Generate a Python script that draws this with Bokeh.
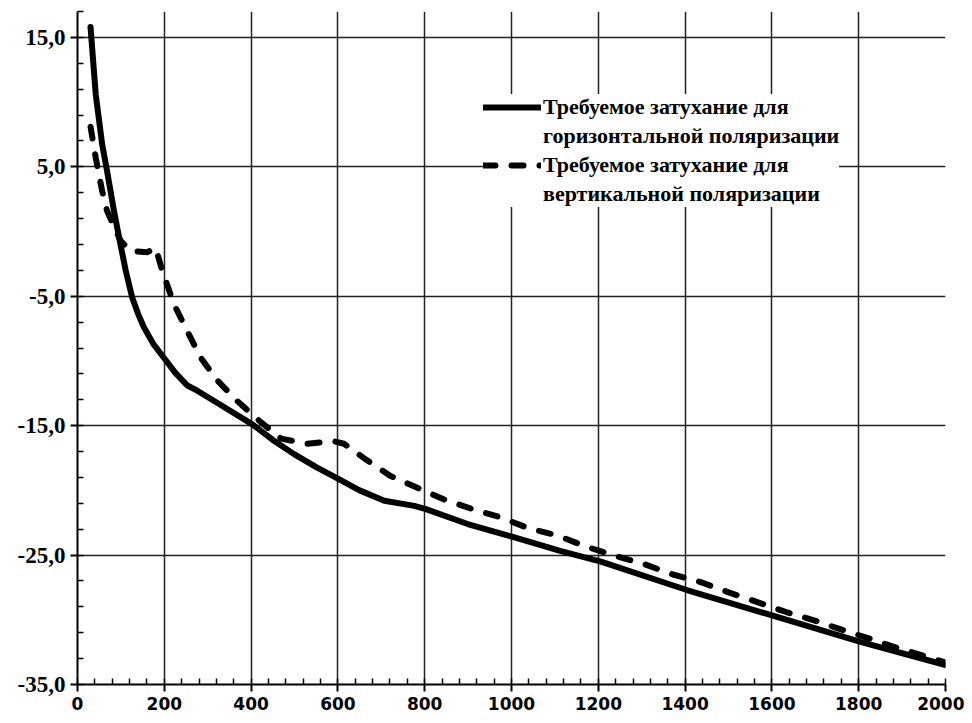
from bokeh.plotting import figure
from bokeh.models import (SingleIntervalTicker, FixedTicker, Legend, LegendItem, Range1d)
from bokeh.embed import file_html
from bokeh.resources import INLINE

# Solid: required attenuation, horizontal polarization
h_x = [30, 42, 57, 68, 84, 99, 111, 126, 140, 153, 175, 199, 225, 253, 276, 330, 403, 450,
       499, 550, 600, 650, 707, 776, 803, 899, 1003, 1114, 1206, 1404, 1604, 1804, 2000]
h_y = [15.8, 10.6, 6.7, 4.7, 1.6, -1.0, -3.0, -5.1, -6.4, -7.4, -8.7, -9.75, -10.9, -11.9,
       -12.3, -13.4, -14.9, -16.1, -17.2, -18.2, -19.1, -20.0, -20.8, -21.2, -21.45, -22.6,
       -23.6, -24.7, -25.5, -27.7, -29.7, -31.7, -33.5]

# Dashed: required attenuation, vertical polarization
v_x = [30, 42, 57, 68, 99, 122, 161, 180, 195, 222, 253, 284, 322, 368, 418, 469, 530, 591,
       614, 668, 722, 783, 845, 910, 976, 1037, 1107, 1168, 1237, 1306, 1372, 1437, 1502,
       1568, 1633, 1699, 1764, 1829, 1891, 1952, 2000]
v_y = [8.1, 5.7, 3.1, 1.6, -0.7, -1.5, -1.6, -1.25, -3.0, -5.6, -7.7, -9.75, -11.5, -13.1,
       -14.6, -16.0, -16.4, -16.2, -16.4, -17.7, -18.9, -19.8, -20.7, -21.45, -22.1, -22.9,
       -23.5, -24.3, -25.05, -25.7, -26.5, -27.1, -27.9, -28.65, -29.4, -30.06, -30.8, -31.5,
       -32.2, -32.8, -33.3]

y_ticks = [-35, -25, -15, -5, 5, 15]
y_tick_labels = ["-35,0", "-25,0", "-15,0", "-5,0", "5,0", "15,0"]
y_minor = list(range(-35, 18, 2))

label_h = ["Требуемое затухание для", "горизонтальной поляризации"]
label_v = ["Требуемое затухание для", "вертикальной поляризации"]

p = figure(width=964, height=715, output_backend="svg", toolbar_location=None,
           x_range=Range1d(0, 2000), y_range=Range1d(-35, 17),
           min_border_left=77, min_border_right=19, min_border_top=11, min_border_bottom=31)
p.outline_line_color = None
p.background_fill_color = "white"

p.xaxis.ticker = SingleIntervalTicker(interval=200, num_minor_ticks=5)
p.yaxis.ticker = FixedTicker(ticks=y_ticks, minor_ticks=y_minor)
p.yaxis.major_label_overrides = {t: s for t, s in zip(y_ticks, y_tick_labels)}

for ax in (p.xaxis, p.yaxis):
    ax.axis_line_color = "black"
    ax.axis_line_width = 2
    ax.major_tick_line_color = "black"
    ax.major_tick_line_width = 2
    ax.minor_tick_line_color = "black"
    ax.minor_tick_line_width = 1.5
    ax.major_tick_out = 7
    ax.major_tick_in = 0
    ax.minor_tick_in = 6
    ax.minor_tick_out = 0

p.xaxis.major_label_text_font = "DejaVu Sans"
p.xaxis.major_label_text_font_style = "bold"
p.xaxis.major_label_text_font_size = "17px"
p.xaxis.major_label_text_color = "black"
p.xaxis.major_label_standoff = 5

p.yaxis.major_label_text_font = "Liberation Serif"
p.yaxis.major_label_text_font_style = "bold"
p.yaxis.major_label_text_font_size = "23px"
p.yaxis.major_label_text_color = "black"
p.yaxis.major_label_standoff = 5

p.xgrid.grid_line_color = "#222222"
p.xgrid.grid_line_width = 1.5
p.ygrid.grid_line_color = "#222222"
p.ygrid.grid_line_width = 1.5

r_h = p.line(h_x, h_y, line_color="black", line_width=6, line_join="round", line_cap="round")
r_v = p.line(v_x, v_y, line_color="black", line_width=6, line_dash="12 16",
             line_join="round", line_cap="round")
# empty, invisible renderer used for the second line of each legend label
r_blank = p.line([], [], line_alpha=0)

legend = Legend(items=[LegendItem(label=label_h[0], renderers=[r_h]),
                       LegendItem(label=label_h[1], renderers=[r_blank]),
                       LegendItem(label=label_v[0], renderers=[r_v]),
                       LegendItem(label=label_v[1], renderers=[r_blank])],
                location=(406, 477), orientation="vertical",
                background_fill_color="white", background_fill_alpha=1.0,
                border_line_color=None,
                label_text_font="Liberation Serif", label_text_font_style="bold",
                label_text_font_size="22px", label_text_color="black",
                label_height=24,
                glyph_width=58, glyph_height=20, label_standoff=2,
                padding=15, spacing=3, margin=0)
p.add_layout(legend, "center")

open("out.html", "w").write(file_html(p, INLINE))
